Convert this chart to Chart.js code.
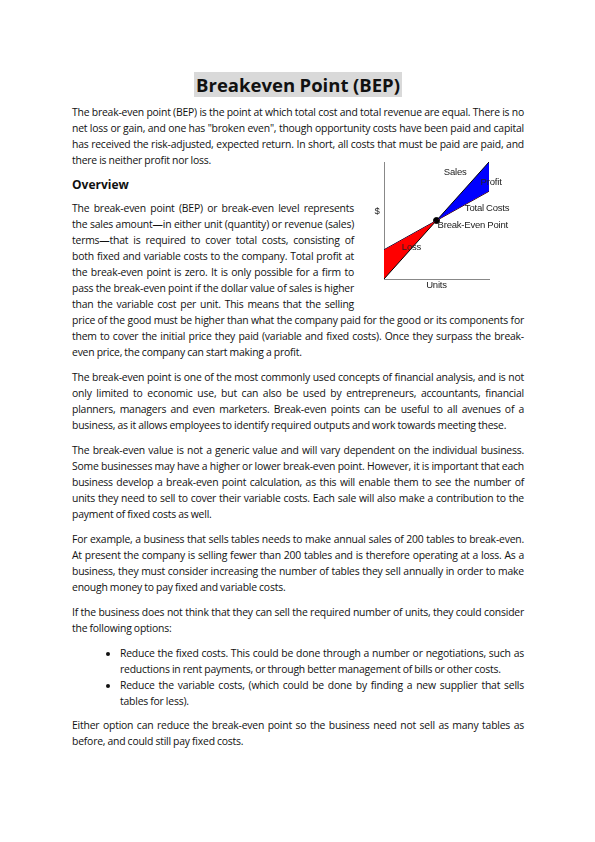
<!DOCTYPE html>
<html><head><meta charset="utf-8">
<script src="https://cdn.jsdelivr.net/npm/chart.js@4"></script>
<style>
body{margin:0;background:#fff;}
#page{position:relative;width:595px;height:842px;font-family:"Open Sans",sans-serif;font-size:10.4px;line-height:16px;color:#111;letter-spacing:-0.2px;word-spacing:-0.3px;}
#content{position:absolute;left:72px;top:73px;width:452px;}
h1{font-size:18.5px;font-weight:bold;text-align:center;margin:0 0 7px 0;line-height:24px;letter-spacing:0;}
h1 span{background:#d9d9d9;padding:0 2px;}
h2{font-size:12px;font-weight:bold;margin:4px 0 7px 0;line-height:16px;letter-spacing:0;}
p{margin:0 0 9px 0;text-align:justify;}
ul{margin:0 0 8px 0;padding-left:48px;}
li{text-align:justify;}
#spacer{float:right;width:170px;height:120px;}
#chartBox{position:absolute;left:360px;top:155px;width:170px;height:145px;}
</style></head>
<body><div id="page"><div id="content">
<h1><span>Breakeven Point (BEP)</span></h1>
<p>The break-even point (BEP) is the point at which total cost and total revenue are equal. There is no net loss or gain, and one has "broken even", though opportunity costs have been paid and capital has received the risk-adjusted, expected return. In short, all costs that must be paid are paid, and there is neither profit nor loss.</p>
<div id="spacer"></div>
<h2>Overview</h2>
<p>The break-even point (BEP) or break-even level represents the sales amount—in either unit (quantity) or revenue (sales) terms—that is required to cover total costs, consisting of both fixed and variable costs to the company. Total profit at the break-even point is zero. It is only possible for a firm to pass the break-even point if the dollar value of sales is higher than the variable cost per unit. This means that the selling price of the good must be higher than what the company paid for the good or its components for them to cover the initial price they paid (variable and fixed costs). Once they surpass the break-even price, the company can start making a profit.</p>
<p>The break-even point is one of the most commonly used concepts of financial analysis, and is not only limited to economic use, but can also be used by entrepreneurs, accountants, financial planners, managers and even marketers. Break-even points can be useful to all avenues of a business, as it allows employees to identify required outputs and work towards meeting these.</p>
<p>The break-even value is not a generic value and will vary dependent on the individual business. Some businesses may have a higher or lower break-even point. However, it is important that each business develop a break-even point calculation, as this will enable them to see the number of units they need to sell to cover their variable costs. Each sale will also make a contribution to the payment of fixed costs as well.</p>
<p>For example, a business that sells tables needs to make annual sales of 200 tables to break-even. At present the company is selling fewer than 200 tables and is therefore operating at a loss. As a business, they must consider increasing the number of tables they sell annually in order to make enough money to pay fixed and variable costs.</p>
<p>If the business does not think that they can sell the required number of units, they could consider the following options:</p>
<ul>
<li>Reduce the fixed costs. This could be done through a number or negotiations, such as reductions in rent payments, or through better management of bills or other costs.</li>
<li>Reduce the variable costs, (which could be done by finding a new supplier that sells tables for less).</li>
</ul>
<p>Either option can reduce the break-even point so the business need not sell as many tables as before, and could still pay fixed costs.</p>
</div>
<div id="chartBox"><canvas id="bep" width="170" height="145"></canvas></div>
</div>
<script>
var units = [0, 5, 10];
var sales = [0, 5, 10];
var totalCosts = [2.5, 5, 7.5];
var bep = [5, 5];
var labels = [
  {text: "Sales", x: 5.7, y: 9.1},
  {text: "Profit", x: 9.2, y: 8.3},
  {text: "Total Costs", x: 7.7, y: 6.0},
  {text: "Break-Even Point", x: 5.1, y: 4.6},
  {text: "Loss", x: 1.7, y: 2.7}
];

var textPlugin = {
  id: 'bepText',
  afterDraw: function(chart) {
    var ctx = chart.ctx, xs = chart.scales.x, ys = chart.scales.y, a = chart.chartArea;
    ctx.save();
    ctx.fillStyle = '#222';
    ctx.font = '9.5px "Liberation Sans", sans-serif';
    ctx.textBaseline = 'middle';
    labels.forEach(function(l) { ctx.fillText(l.text, xs.getPixelForValue(l.x), ys.getPixelForValue(l.y)); });
    ctx.textAlign = 'center';
    ctx.fillText('Units', (a.left + a.right) / 2, a.bottom + 6);
    ctx.fillText('$', a.left - 7, ys.getPixelForValue(5.8));
    ctx.restore();
  }
};

new Chart(document.getElementById('bep'), {
  type: 'line',
  data: {
    labels: units,
    datasets: [
      {data: sales, borderColor: '#000', borderWidth: 1, pointRadius: 0,
       fill: {target: 1, above: '#0000ff', below: '#ff0000'}},
      {data: totalCosts, borderColor: '#000', borderWidth: 1, pointRadius: 0, fill: false},
      {data: [{x: bep[0], y: bep[1]}], pointRadius: 3, pointBackgroundColor: '#000', pointBorderColor: '#000', showLine: false}
    ]
  },
  options: {
    responsive: false, animation: false,
    layout: {padding: {left: 16, right: 41, top: 7, bottom: 13}},
    plugins: {legend: {display: false}, tooltip: {enabled: false}},
    scales: {
      x: {type: 'linear', min: 0, max: 10, ticks: {display: false}, grid: {display: false},
          border: {display: true, color: '#888', width: 1}},
      y: {min: 0, max: 10, ticks: {display: false}, grid: {display: false},
          border: {display: true, color: '#888', width: 1}}
    }
  },
  plugins: [textPlugin]
});
</script>
</body></html>
